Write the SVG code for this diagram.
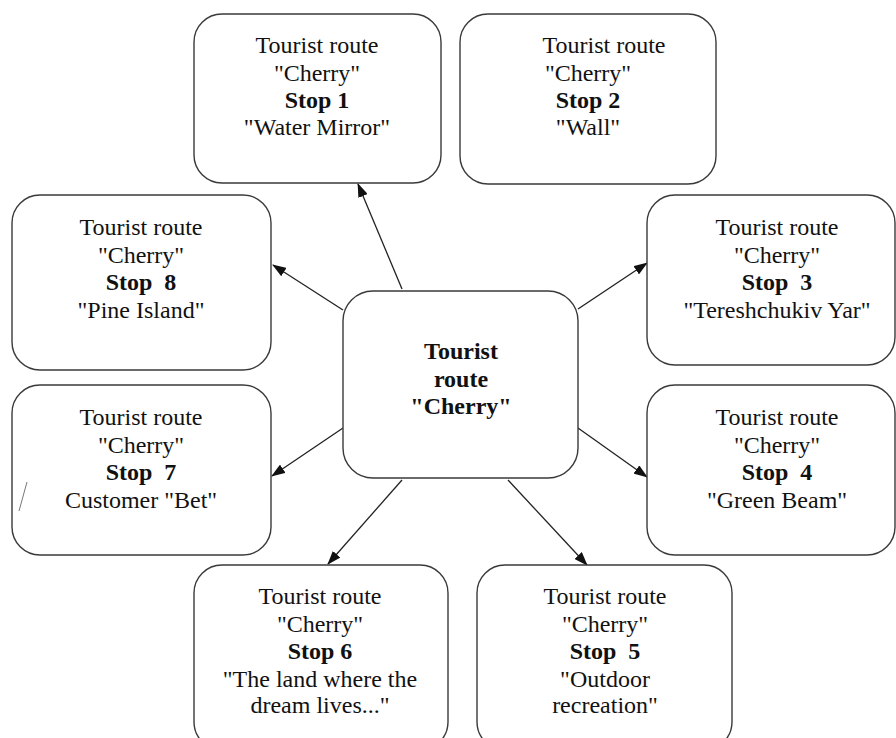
<svg xmlns="http://www.w3.org/2000/svg" width="896" height="738" viewBox="0 0 896 738">
  <style>
    .box { fill: #ffffff; stroke: #3a3a3a; stroke-width: 1.4; }
    .t { font-family: 'Liberation Serif', 'Times New Roman', serif; font-size: 24px; fill: #111111; text-anchor: middle; }
    .b { font-weight: bold; }
    .link { stroke: #222222; stroke-width: 1.3; fill: none; marker-end: url(#head); }
  </style>
  <defs>
    <marker id="head" markerUnits="userSpaceOnUse" markerWidth="14" markerHeight="10" refX="13" refY="5" orient="auto">
      <path d="M0,0 L14,5 L0,10 Z" fill="#111111"/>
    </marker>
  </defs>
  <rect width="896" height="738" fill="#ffffff"/>

  <!-- connectors from the central node -->
  <g id="connectors">
    <line class="link" x1="402" y1="289" x2="358" y2="184"/>
    <line class="link" x1="578" y1="309" x2="647" y2="263"/>
    <line class="link" x1="343" y1="310" x2="273" y2="265"/>
    <line class="link" x1="578" y1="428" x2="647" y2="477"/>
    <line class="link" x1="343" y1="428" x2="272" y2="476"/>
    <line class="link" x1="402" y1="480" x2="328" y2="564"/>
    <line class="link" x1="508" y1="480" x2="587" y2="565"/>
  </g>

  <g id="center">
    <rect class="box" x="343" y="291" width="235" height="187" rx="30"/>
    <text class="t b" x="461" y="359">Tourist</text>
    <text class="t b" x="461" y="387">route</text>
    <text class="t b" x="461" y="414">"Cherry"</text>
  </g>

  <g id="stop1">
    <rect class="box" x="194" y="14" width="247" height="169" rx="28"/>
    <text class="t" x="317" y="53">Tourist route</text>
    <text class="t" x="317" y="81">"Cherry"</text>
    <text class="t b" x="317" y="108">Stop 1</text>
    <text class="t" x="317" y="135">"Water Mirror"</text>
  </g>

  <g id="stop2">
    <rect class="box" x="460" y="14" width="256" height="170" rx="28"/>
    <text class="t" x="604" y="53">Tourist route</text>
    <text class="t" x="588" y="81">"Cherry"</text>
    <text class="t b" x="588" y="108">Stop 2</text>
    <text class="t" x="588" y="135">"Wall"</text>
  </g>

  <g id="stop3">
    <rect class="box" x="647" y="195" width="248" height="170" rx="28"/>
    <text class="t" x="777" y="235">Tourist route</text>
    <text class="t" x="777" y="263">"Cherry"</text>
    <text class="t b" x="777" y="290" xml:space="preserve">Stop  3</text>
    <text class="t" x="777" y="318">"Tereshchukiv Yar"</text>
  </g>

  <g id="stop4">
    <rect class="box" x="647" y="385" width="248" height="170" rx="28"/>
    <text class="t" x="777" y="425">Tourist route</text>
    <text class="t" x="777" y="453">"Cherry"</text>
    <text class="t b" x="777" y="480" xml:space="preserve">Stop  4</text>
    <text class="t" x="777" y="508">"Green Beam"</text>
  </g>

  <g id="stop5">
    <rect class="box" x="477" y="565" width="255" height="185" rx="28"/>
    <text class="t" x="605" y="604">Tourist route</text>
    <text class="t" x="605" y="632">"Cherry"</text>
    <text class="t b" x="605" y="659" xml:space="preserve">Stop  5</text>
    <text class="t" x="605" y="687">"Outdoor</text>
    <text class="t" x="605" y="713">recreation"</text>
  </g>

  <g id="stop6">
    <rect class="box" x="194" y="565" width="254" height="185" rx="28"/>
    <text class="t" x="320" y="604">Tourist route</text>
    <text class="t" x="320" y="632">"Cherry"</text>
    <text class="t b" x="320" y="659">Stop 6</text>
    <text class="t" x="320" y="687">"The land where the</text>
    <text class="t" x="320" y="713">dream lives..."</text>
  </g>

  <g id="stop7">
    <rect class="box" x="12" y="385" width="259" height="170" rx="28"/>
    <text class="t" x="141" y="425">Tourist route</text>
    <text class="t" x="141" y="453">"Cherry"</text>
    <text class="t b" x="141" y="480" xml:space="preserve">Stop  7</text>
    <text class="t" x="141" y="508">Customer "Bet"</text>
    <line x1="27" y1="482" x2="19" y2="511" stroke="#777777" stroke-width="1"/>
  </g>

  <g id="stop8">
    <rect class="box" x="12" y="195" width="259" height="175" rx="28"/>
    <text class="t" x="141" y="235">Tourist route</text>
    <text class="t" x="141" y="263">"Cherry"</text>
    <text class="t b" x="141" y="290" xml:space="preserve">Stop  8</text>
    <text class="t" x="141" y="318">"Pine Island"</text>
  </g>
</svg>
